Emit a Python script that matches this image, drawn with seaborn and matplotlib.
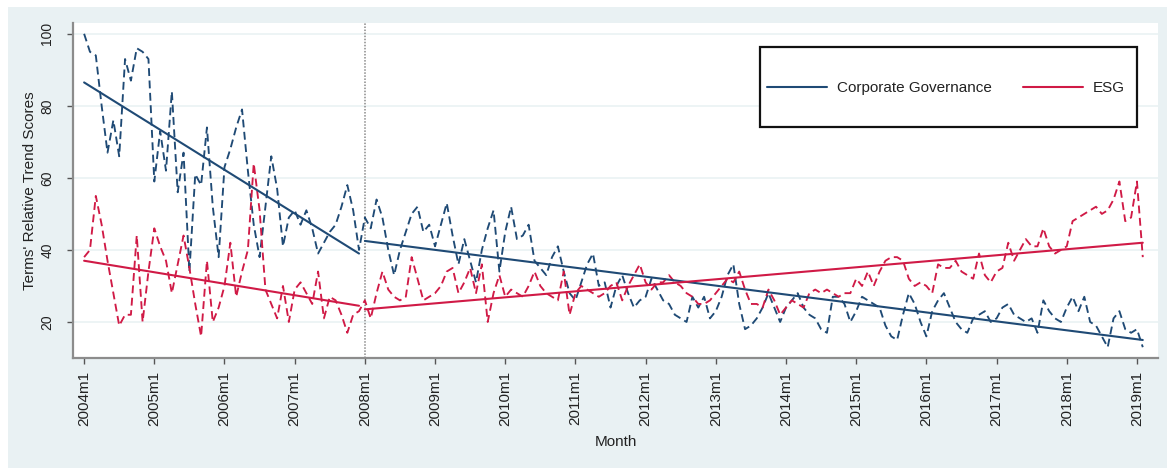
import numpy as np
import pandas as pd
import matplotlib
matplotlib.use("Agg")
import matplotlib.pyplot as plt
from matplotlib.patches import Rectangle
from matplotlib.lines import Line2D
import seaborn as sns

# Monthly relative search-interest scores, 2004m1 onwards
cg_scores = [
    100, 95, 94, 80, 67, 76, 66, 93, 87, 96, 95, 93,
    59, 73, 62, 84, 56, 67, 34, 61, 58, 74, 52, 38,
    63, 68, 74, 79, 62, 47, 38, 52, 66, 57, 41, 49,
    51, 47, 51, 46, 39, 42, 45, 47, 52, 58, 51, 40,
    49, 46, 54, 49, 40, 33, 40, 45, 50, 52, 45, 47,
    41, 47, 53, 44, 36, 43, 37, 31, 40, 46, 51, 34,
    45, 52, 43, 44, 47, 37, 35, 33, 38, 41, 34, 28,
    26, 31, 36, 39, 30, 31, 24, 30, 33, 28, 24, 26,
    27, 32, 29, 26, 25, 22, 21, 20, 27, 24, 27, 21,
    23, 27, 33, 36, 25, 18, 19, 21, 24, 28, 24, 20,
    24, 26, 28, 24, 22, 21, 18, 17, 27, 27, 25, 20,
    23, 27, 26, 25, 24, 19, 16, 15, 22, 28, 25, 20,
    16, 23, 26, 28, 24, 20, 18, 17, 21, 22, 23, 20,
    21, 24, 25, 22, 21, 20, 21, 17, 26, 23, 21, 20,
    24, 27, 23, 27, 20, 19, 16, 13, 21, 23, 18, 17,
    18, 13,
]
esg_scores = [
    38, 40, 55, 47, 37, 28, 19, 22, 22, 44, 20, 34,
    46, 41, 37, 28, 36, 44, 35, 25, 16, 37, 20, 24,
    30, 42, 27, 34, 40, 64, 51, 29, 25, 21, 30, 20,
    29, 31, 28, 25, 34, 21, 27, 26, 22, 17, 22, 23,
    26, 21, 28, 34, 29, 27, 26, 27, 38, 32, 26, 27,
    28, 30, 34, 35, 28, 31, 35, 28, 36, 20, 28, 33,
    27, 29, 28, 27, 30, 34, 30, 28, 27, 26, 34, 22,
    28, 30, 29, 28, 27, 28, 30, 31, 26, 30, 33, 36,
    31, 29, 31, 31, 33, 31, 30, 28, 27, 25, 25, 26,
    28, 30, 32, 31, 34, 29, 25, 25, 24, 29, 26, 22,
    24, 26, 25, 24, 28, 29, 28, 29, 28, 27, 28, 28,
    32, 30, 34, 30, 34, 37, 38, 38, 37, 32, 30, 31,
    30, 28, 36, 35, 35, 37, 34, 33, 32, 39, 33, 31,
    34, 35, 42, 37, 40, 43, 41, 41, 46, 41, 39, 40,
    41, 48, 49, 50, 51, 52, 50, 51, 54, 59, 48, 49,
    59, 38,
]
tick_labels = ["2004m1", "2005m1", "2006m1", "2007m1", "2008m1", "2009m1",
               "2010m1", "2011m1", "2012m1", "2013m1", "2014m1", "2015m1",
               "2016m1", "2017m1", "2018m1", "2019m1"]
series_names = ["Corporate Governance", "ESG"]
break_label = "2008m1"

# Fitted linear trends before and after the break (start, end values)
cg_trend_pre = [86.5, 39.0]
cg_trend_post = [42.5, 15.0]
esg_trend_pre = [37.0, 24.5]
esg_trend_post = [23.5, 42.0]

BLUE = "#1f4a75"
RED = "#d01a46"
PANEL = "#e9f1f3"

n = len(cg_scores)
t = np.arange(n)
brk = tick_labels.index(break_label) * 12

raw = pd.DataFrame({
    "t": np.concatenate([t, t]),
    "score": cg_scores + esg_scores,
    "term": [series_names[0]] * n + [series_names[1]] * n,
})

trend = pd.DataFrame({
    "t": [0, brk - 1, brk, n - 1] * 2,
    "score": cg_trend_pre + cg_trend_post + esg_trend_pre + esg_trend_post,
    "term": [series_names[0]] * 4 + [series_names[1]] * 4,
    "seg": ["pre", "pre", "post", "post"] * 2,
})
trend["unit"] = trend["term"] + "_" + trend["seg"]

sns.set_theme(style="white")
plt.rcParams["font.family"] = ["Liberation Sans", "DejaVu Sans"]
plt.rcParams["text.color"] = "#222222"
plt.rcParams["axes.labelcolor"] = "#222222"
plt.rcParams["xtick.color"] = "#222222"
plt.rcParams["ytick.color"] = "#222222"

W, H = 1167, 468
fig = plt.figure(figsize=(W / 100, H / 100), dpi=100)
fig.patch.set_facecolor("white")
fig.patches.append(Rectangle((8 / W, 0), 1 - 8 / W, 1 - 7 / H,
                             transform=fig.transFigure, facecolor=PANEL,
                             edgecolor="none", zorder=-5))

ax = fig.add_axes([73 / W, 1 - 358 / H, (1158 - 73) / W, (358 - 23) / H])
ax.set_facecolor("white")

palette = {series_names[0]: BLUE, series_names[1]: RED}

sns.lineplot(data=raw, x="t", y="score", hue="term", palette=palette,
             legend=False, ax=ax, lw=1.35, linestyle=(0, (4.2, 2.4)), zorder=3)
sns.lineplot(data=trend, x="t", y="score", hue="term", units="unit",
             estimator=None, palette=palette, legend=False, ax=ax, lw=1.5,
             zorder=3)

ax.axvline(brk, color="#8a8a8a", lw=1.1, ls=(0, (1, 1.0)), zorder=2)

ax.set_xlim(-1.9, 183.6)
ax.set_ylim(10, 103)
ax.set_xticks(np.arange(len(tick_labels)) * 12)
ax.set_xticklabels(tick_labels, rotation=90, fontsize=11)
ax.set_yticks([20, 40, 60, 80, 100])
ax.set_yticklabels(["20", "40", "60", "80", "100"], rotation=90, fontsize=10,
                   va="center")
ax.grid(axis="y", color="#eaf2f3", lw=1.2)
ax.set_axisbelow(True)

for side in ["top", "right"]:
    ax.spines[side].set_visible(False)
for side in ["left", "bottom"]:
    ax.spines[side].set_color("#8c8c8c")
    ax.spines[side].set_linewidth(1.6)
ax.tick_params(axis="both", direction="out", length=4.5, width=1.0,
               color="#555555", bottom=True, left=True)
ax.tick_params(axis="x", pad=5)
ax.tick_params(axis="y", pad=9)

ax.set_xlabel("Month", fontsize=11, labelpad=6)
ax.set_ylabel("Terms' Relative Trend Scores", fontsize=11, labelpad=2)

# Legend box
ax.add_patch(Rectangle((760 / W, 1 - 127 / H), 377 / W, 80 / H,
                       transform=fig.transFigure, facecolor="white",
                       edgecolor="#111111", lw=1.6, zorder=6,
                       clip_on=False))
handles = [Line2D([0], [0], color=BLUE, lw=1.5),
           Line2D([0], [0], color=RED, lw=1.5)]
leg = ax.legend(handles, series_names, loc="center left",
                bbox_to_anchor=(767 / W, 1 - 88 / H),
                bbox_transform=fig.transFigure, ncol=2, frameon=False,
                fontsize=11, borderpad=0, borderaxespad=0,
                handlelength=3.9, handletextpad=0.65, columnspacing=2.1)
leg.set_zorder(7)

fig.savefig("out.png", dpi=100)
